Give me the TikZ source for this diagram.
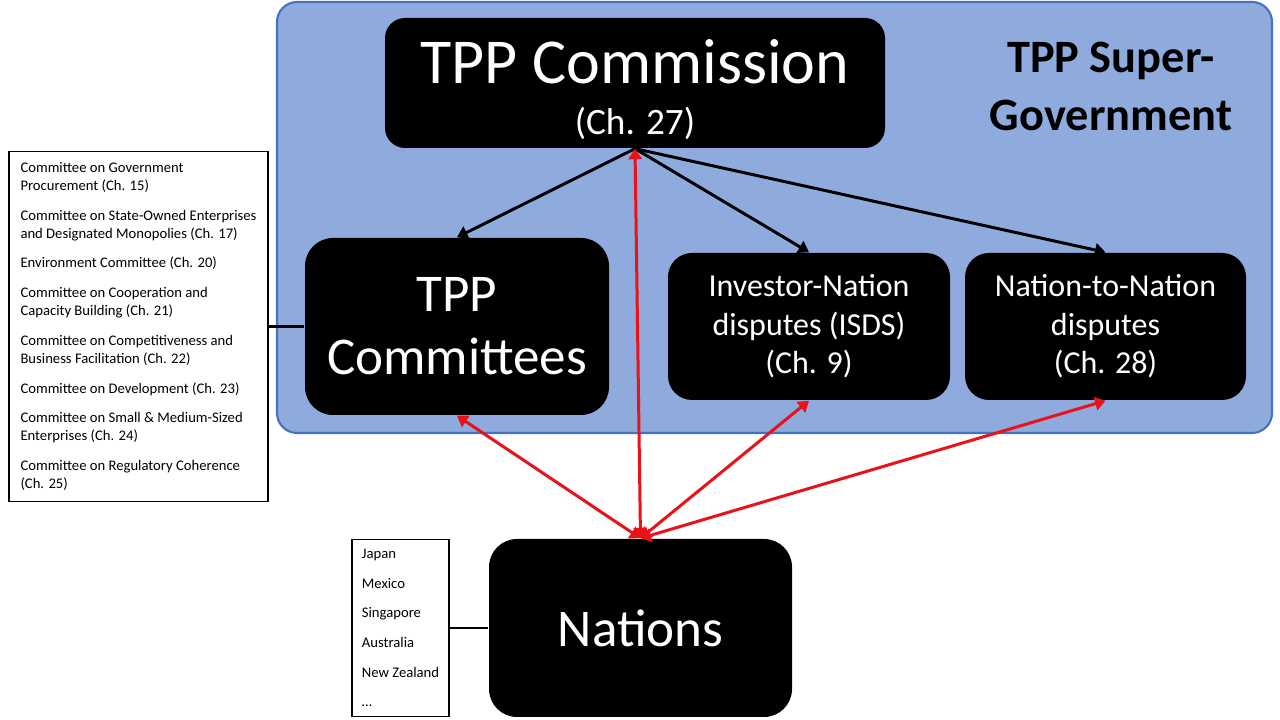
\documentclass[tikz,border=0pt]{standalone}
\usepackage{fontspec}
\setmainfont{Carlito}
\usetikzlibrary{arrows.meta}
\definecolor{govblue}{HTML}{8FAADC}
\definecolor{govedge}{HTML}{4472C4}
\definecolor{linkred}{RGB}{232,18,24}

\begin{document}
\begin{tikzpicture} [scale = 1, >={Triangle[length=3pt, width=3.8pt]},
  blackbox/.style = {fill = black, text = white, align = center, inner sep = 0pt},
  listbox/.style = {draw = black, line width = 0.3pt, fill = white, align = left, inner sep = 0pt},
  down/.style = {black, ->, line width = 0.85pt},
  link/.style = {linkred, <->, line width = 0.85pt}]
\useasboundingbox (0, 0) rectangle (12.8, 7.2);
\node[fill = govblue, draw = govedge, line width = 0.6pt, rounded corners = 0.2cm, minimum width = 9.95cm, minimum height = 4.31cm] (gov) at (7.745, 5.025){};
\node[black, align = center, font = \fontsize{13.2}{16.5}\selectfont\bfseries] (title) at (11.11, 6.34){TPP Super-\\Government};
\node[blackbox, minimum width = 5cm, minimum height = 1.3cm, rounded corners = 0.2cm, font = \fontsize{18.2}{14.6}\selectfont] (commission) at (6.35, 6.37){\rule{0pt}{16.4pt}TPP Commission\\{\fontsize{10.6}{14.6}\selectfont (Ch. 27)}};
\node[blackbox, minimum width = 3.04cm, minimum height = 1.77cm, rounded corners = 0.28cm, font = \fontsize{15.1}{17.9}\selectfont] (committees) at (4.57, 3.935){TPP\\Committees};
\node[blackbox, minimum width = 2.82cm, minimum height = 1.47cm, rounded corners = 0.24cm, font = \fontsize{9.1}{10.95}\selectfont] (isds) at (8.09, 3.935){Investor-Nation\\disputes (ISDS)\\(Ch. 9)};
\node[blackbox, minimum width = 2.81cm, minimum height = 1.47cm, rounded corners = 0.24cm, font = \fontsize{9.1}{10.95}\selectfont] (n2n) at (11.055, 3.935){Nation-to-Nation\\disputes\\(Ch. 28)};
\node[blackbox, minimum width = 3.03cm, minimum height = 1.78cm, rounded corners = 0.28cm, font = \fontsize{15.1}{17.9}\selectfont] (nations) at (6.405, 0.92){Nations};
\node[listbox, minimum width = 2.59cm, minimum height = 3.5cm, font = \fontsize{4.17}{5.2}\selectfont] (comlist) at (1.385, 3.935){Committee on Government\\Procurement (Ch. 15)\\[3.2pt]Committee on State-Owned Enterprises\\and Designated Monopolies (Ch. 17)\\[3.2pt]Environment Committee (Ch. 20)\\[3.2pt]Committee on Cooperation and\\Capacity Building (Ch. 21)\\[3.2pt]Committee on Competitiveness and\\Business Facilitation (Ch. 22)\\[3.2pt]Committee on Development (Ch. 23)\\[3.2pt]Committee on Small \& Medium-Sized\\Enterprises (Ch. 24)\\[3.2pt]Committee on Regulatory Coherence\\(Ch. 25)};
\node[listbox, minimum width = 0.97cm, minimum height = 1.77cm, font = \fontsize{4.17}{8.42}\selectfont] (natlist) at (4.005, 0.92){Japan\\Mexico\\Singapore\\Australia\\New Zealand\\\dots};
\draw[black, line width = 0.7pt] (comlist.east) -- (committees.west);
\draw[black, line width = 0.7pt] (natlist.east) -- (nations.west);
\draw[down] (commission.south) -- (committees.north);
\draw[down] (commission.south) -- (isds.north);
\draw[down] (commission.south) -- (n2n.north);
\draw[link] (nations.north) -- (commission.south);
\draw[link] (nations.north) -- (committees.south);
\draw[link] (nations.north) -- (isds.south);
\draw[link] (nations.north) -- (n2n.south);
\end{tikzpicture}
\end{document}
